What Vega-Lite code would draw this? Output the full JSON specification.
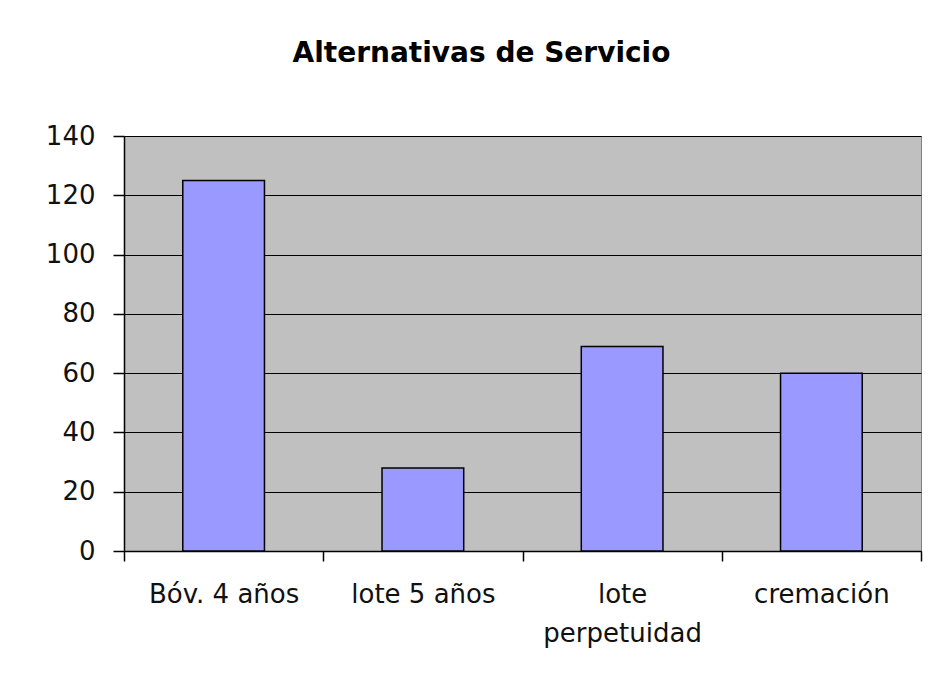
{
  "$schema": "https://vega.github.io/schema/vega-lite/v6.json",
  "autosize": {"type": "none"},
  "width": 797,
  "height": 415,
  "padding": {"left": 124, "top": 136, "right": 22, "bottom": 122},
  "background": "white",
  "title": {
    "text": "Alternativas de Servicio",
    "font": "DejaVu Sans",
    "fontSize": 28,
    "fontWeight": "bold",
    "color": "black",
    "anchor": "middle",
    "dx": -41,
    "offset": 55
  },
  "data": {
    "values": [
      {"categoria": "Bóv. 4 años", "valor": 125},
      {"categoria": "lote 5 años", "valor": 28},
      {"categoria": "lote perpetuidad", "valor": 69},
      {"categoria": "cremación", "valor": 60}
    ]
  },
  "mark": {"type": "bar", "fill": "#9999FF", "stroke": "black", "strokeWidth": 1.5, "width": {"band": 0.41}},
  "encoding": {
    "x": {
      "field": "categoria",
      "type": "nominal",
      "sort": null,
      "scale": {"paddingInner": 0, "paddingOuter": 0},
      "axis": {
        "title": null,
        "labelAngle": 0,
        "tickBand": "extent",
        "tickSize": 10,
        "tickColor": "black",
        "tickWidth": 1.5,
        "domainColor": "black",
        "domainWidth": 1.5,
        "grid": false,
        "labelFont": "DejaVu Sans",
        "labelFontSize": 26,
        "labelColor": "#111",
        "labelPadding": 20,
        "labelLineHeight": 39,
        "labelExpr": "datum.label == 'lote perpetuidad' ? ['lote', 'perpetuidad'] : datum.label"
      }
    },
    "y": {
      "field": "valor",
      "type": "quantitative",
      "scale": {"domain": [0, 140], "nice": false},
      "axis": {
        "title": null,
        "values": [0, 20, 40, 60, 80, 100, 120, 140],
        "grid": true,
        "gridColor": "black",
        "gridWidth": 1.2,
        "gridOpacity": 1,
        "tickSize": 11,
        "tickColor": "black",
        "tickWidth": 1.5,
        "domainColor": "black",
        "domainWidth": 1.5,
        "labelFont": "DejaVu Sans",
        "labelFontSize": 26,
        "labelColor": "#111",
        "labelPadding": 18
      }
    }
  },
  "config": {
    "view": {"fill": "#C0C0C0", "stroke": "#808080", "strokeWidth": 1}
  }
}
